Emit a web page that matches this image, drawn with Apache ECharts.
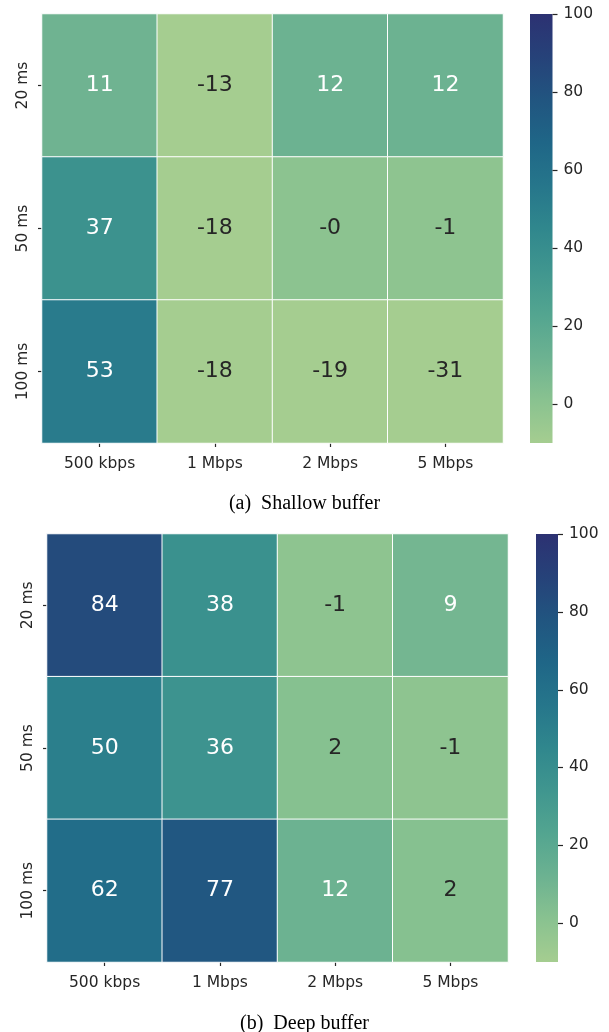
<!DOCTYPE html>
<html>
<head>
<meta charset="utf-8">
<script src="https://cdn.jsdelivr.net/npm/echarts@6/dist/echarts.min.js"></script>
<style>
  html, body { margin: 0; padding: 0; background: #ffffff; }
  #chart { width: 609px; height: 1032px; }
</style>
</head>
<body>
<div id="chart"></div>
<script>
// Link rate (columns) and base delay (rows)
const rates = ['500 kbps', '1 Mbps', '2 Mbps', '5 Mbps'];
const delays = ['20 ms', '50 ms', '100 ms'];

// Cell values, one row per delay
const shallowBuffer = [
  [11, -13, 12, 12],
  [37, -18, -0, -1],
  [53, -18, -19, -31]
];
const deepBuffer = [
  [84, 38, -1, 9],
  [50, 36, 2, -1],
  [62, 77, 12, 2]
];

// Colour scale range and colour bar ticks
const scaleMin = -10;
const scaleMax = 100;
const colorbarTicks = [0, 20, 40, 60, 80, 100];

const captions = ['(a)\u2002Shallow buffer', '(b)\u2002Deep buffer'];

// "crest" style ramp, light green -> deep navy, evenly spaced stops
const crest = ['#a5cd90', '#89c290', '#6cb291', '#53a590', '#40968f', '#30878d',
               '#26768b', '#1f6687', '#215580', '#264279', '#2c3172'];

function hexToRgb(h) {
  return [parseInt(h.slice(1, 3), 16), parseInt(h.slice(3, 5), 16), parseInt(h.slice(5, 7), 16)];
}
function rampColor(v) {
  let t = (v - scaleMin) / (scaleMax - scaleMin);
  t = Math.max(0, Math.min(1, t));
  const pos = t * (crest.length - 1);
  const i = Math.min(crest.length - 2, Math.floor(pos));
  const f = pos - i;
  const a = hexToRgb(crest[i]), b = hexToRgb(crest[i + 1]);
  return a.map((c, k) => c + (b[k] - c) * f);
}
function luminance(rgb) {
  const lin = rgb.map(c => {
    c = c / 255;
    return c <= 0.03928 ? c / 12.92 : Math.pow((c + 0.055) / 1.055, 2.4);
  });
  return 0.2126 * lin[0] + 0.7152 * lin[1] + 0.0722 * lin[2];
}
function fmt(v) {
  return (v < 0 || Object.is(v, -0)) ? '-' + Math.abs(v) : String(v);
}
function cells(matrix) {
  const out = [];
  matrix.forEach((row, r) => {
    row.forEach((v, c) => {
      const dark = luminance(rampColor(v)) > 0.408;
      out.push({
        value: [c, r, v],
        label: { formatter: fmt(v), color: dark ? '#262626' : '#ffffff' }
      });
    });
  });
  return out;
}

// vertical gradient for the colour bar, bottom = scaleMin, top = scaleMax
const barGradient = new echarts.graphic.LinearGradient(0, 1, 0, 0,
  crest.map((c, i) => ({ offset: i / (crest.length - 1), color: c })));

// colour bar body plus its outward tick marks, placed through the bar's value scale
function renderColorbar(params, api) {
  const p0 = api.coord([0, scaleMin]);
  const p1 = api.coord([1, scaleMax]);
  const children = [{
    type: 'rect',
    shape: { x: p0[0], y: p1[1], width: p1[0] - p0[0], height: p0[1] - p1[1] },
    style: { fill: barGradient }
  }];
  colorbarTicks.forEach(t => {
    const y = Math.round(api.coord([1, t])[1]) + 0.5;
    children.push({
      type: 'line',
      shape: { x1: p1[0], y1: y, x2: p1[0] + 5, y2: y },
      style: { stroke: '#262626', lineWidth: 1.2 }
    });
  });
  return { type: 'group', children };
}

const tickText = { color: '#262626', fontSize: 15.5, fontFamily: 'DejaVu Sans' };
const tickLine = { show: true, length: 4, lineStyle: { color: '#262626', width: 1.2 } };

const panels = [
  { grid: { left: 42, top: 14, width: 461, height: 429 }, bar: { left: 530, top: 14, width: 22.5, height: 429 }, data: shallowBuffer, captionTop: 494 },
  { grid: { left: 47, top: 534, width: 461, height: 428 }, bar: { left: 536, top: 534, width: 22, height: 428 }, data: deepBuffer, captionTop: 1014 }
];

const grid = [], xAxis = [], yAxis = [], series = [], visualMap = [], title = [];

panels.forEach((p, i) => {
  grid.push(p.grid);
  grid.push({ left: p.bar.left, top: p.bar.top, width: p.bar.width, height: p.bar.height });
  const gMain = grid.length - 2, gBar = grid.length - 1;

  xAxis.push({
    type: 'category', gridIndex: gMain, data: rates,
    axisLine: { show: false },
    axisTick: Object.assign({ alignWithLabel: true }, tickLine),
    axisLabel: Object.assign({ margin: 13 }, tickText),
    splitLine: { show: false }
  });
  yAxis.push({
    type: 'category', gridIndex: gMain, data: delays, inverse: true,
    axisLine: { show: false },
    axisTick: Object.assign({ alignWithLabel: true }, tickLine),
    axisLabel: Object.assign({ rotate: 90, margin: 11 }, tickText),
    splitLine: { show: false }
  });

  // colour bar scale
  xAxis.push({ type: 'value', gridIndex: gBar, show: false, min: 0, max: 1 });
  yAxis.push({
    type: 'value', gridIndex: gBar, position: 'right',
    min: scaleMin, max: scaleMax,
    axisLine: { show: false },
    axisTick: { show: false },
    axisLabel: Object.assign({ customValues: colorbarTicks, margin: 11 }, tickText),
    splitLine: { show: false }
  });

  series.push({
    type: 'heatmap',
    xAxisIndex: xAxis.length - 2, yAxisIndex: yAxis.length - 2,
    data: cells(p.data),
    itemStyle: { borderColor: '#ffffff', borderWidth: 1 },
    label: { show: true, fontSize: 22, fontFamily: 'DejaVu Sans' },
    emphasis: { disabled: true }
  });

  visualMap.push({
    type: 'continuous', seriesIndex: series.length - 1, show: false,
    min: scaleMin, max: scaleMax,
    inRange: { color: crest }
  });

  title.push({
    text: captions[i], left: 'center', top: p.captionTop, padding: 0,
    textStyle: { fontFamily: 'Liberation Serif', fontSize: 20, fontWeight: 'normal', color: '#000000' }
  });
});

// colour bars drawn on their own value scale
panels.forEach((p, i) => {
  series.push({
    type: 'custom',
    xAxisIndex: 2 * i + 1, yAxisIndex: 2 * i + 1,
    data: [[scaleMin, scaleMax]],
    renderItem: renderColorbar,
    clip: false,
    silent: true
  });
});

const chart = echarts.init(document.getElementById('chart'), null, { renderer: 'canvas' });
chart.setOption({
  animation: false,
  backgroundColor: '#ffffff',
  title, grid, xAxis, yAxis, visualMap, series
});
</script>
</body>
</html>
